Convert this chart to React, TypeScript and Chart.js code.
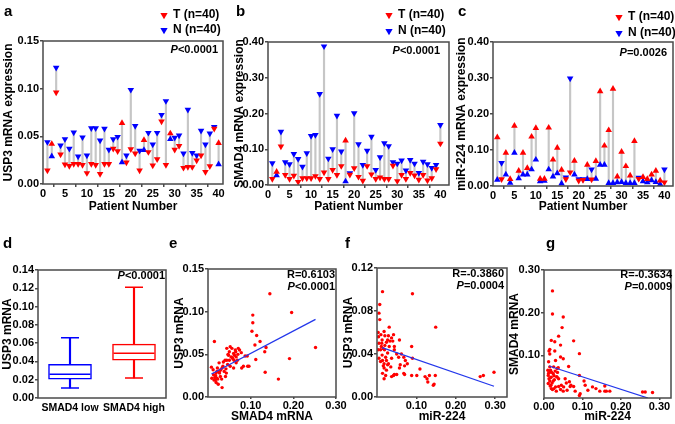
import React, { useEffect, useRef } from 'react';
import { Chart, registerables } from 'chart.js';
Chart.register(...registerables);

const FONT = "'Liberation Sans', Arial, Helvetica, sans-serif";
const RED = '#ff0000';
const BLUE = '#0000ff';
const LINE_BLUE = 'rgb(35,55,235)';
const FRAME = '#4a4a4a';
const CONNECT = '#c6c6c6';

// ---------- data ----------
const patients = [1,2,3,4,5,6,7,8,9,10,11,12,13,14,15,16,17,18,19,20,21,22,23,24,25,26,27,28,29,30,31,32,33,34,35,36,37,38,39,40];
const patientTicks = [0,5,10,15,20,25,30,35,40];

// a: USP3 mRNA expression
const usp3T = [0.0143,0.042,0.096,0.031,0.0206,0.019,0.021,0.021,0.020,0.0115,0.021,0.020,0.0105,0.021,0.021,0.037,0.0345,0.064,0.0227,0.0366,0.032,0.0143,0.046,0.0335,0.0195,0.026,0.0656,0.020,0.053,0.036,0.040,0.017,0.018,0.0178,0.0248,0.030,0.0126,0.0188,0.058,0.043];
const usp3N = [0.044,0.029,0.122,0.0405,0.047,0.037,0.054,0.029,0.049,0.030,0.0586,0.0586,0.0457,0.058,0.036,0.047,0.0495,0.0227,0.030,0.0988,0.061,0.035,0.0356,0.0537,0.0415,0.0537,0.0726,0.087,0.047,0.0485,0.051,0.032,0.078,0.0325,0.030,0.056,0.0415,0.053,0.060,0.0206];
const usp3Ticks = [0,0.05,0.10,0.15];

// b: SMAD4 mRNA expression
const smad4T = [0.017,0.037,0.108,0.028,0.017,0.026,0.009,0.019,0.019,0.019,0.025,0.017,0.035,0.017,0.042,0.028,0.053,0.124,0.029,0.047,0.023,0.012,0.053,0.030,0.017,0.021,0.017,0.017,0.054,0.011,0.028,0.017,0.034,0.027,0.015,0.028,0.013,0.019,0.044,0.116];
const smad4N = [0.061,0.027,0.149,0.064,0.058,0.087,0.073,0.051,0.089,0.137,0.140,0.255,0.388,0.074,0.100,0.194,0.094,0.010,0.033,0.201,0.114,0.056,0.096,0.135,0.042,0.078,0.117,0.109,0.064,0.060,0.069,0.041,0.070,0.060,0.034,0.065,0.058,0.048,0.056,0.168];
const smad4Ticks = [0,0.10,0.20,0.30,0.40];

// c: miR-224 mRNA expression
const mirT = [0.135,0.019,0.092,0.019,0.167,0.042,0.092,0.050,0.137,0.161,0.020,0.020,0.162,0.073,0.106,0.045,0.019,0.038,0.070,0.015,0.017,0.059,0.018,0.069,0.263,0.112,0.155,0.270,0.026,0.095,0.055,0.029,0.125,0.020,0.025,0.019,0.032,0.042,0.015,0.010];
const mirN = [0.017,0.064,0.032,0.009,0.092,0.021,0.032,0.032,0.046,0.073,0.013,0.014,0.046,0.026,0.035,0.007,0.024,0.299,0.032,0.019,0.019,0.019,0.046,0.020,0.059,0.059,0.008,0.008,0.010,0.011,0.008,0.008,0.008,0.023,0.013,0.010,0.016,0.011,0.005,0.046];
const mirTicks = [0,0.10,0.20,0.30,0.40];

// d: box plot
const boxGroups = ['SMAD4 low', 'SMAD4 high'];
const boxMin = [0.011, 0.0219];
const boxQ1 = [0.0207, 0.0415];
const boxMedian = [0.026, 0.049];
const boxQ3 = [0.0367, 0.059];
const boxMax = [0.066, 0.121];
const boxTicks = [0,0.02,0.04,0.06,0.08,0.10,0.12,0.14];

// e: SMAD4 (x) vs USP3 (y)
const eX = [0.145,0.196,0.105,0.105,0.103,0.114,0.122,0.110,0.136,0.133,0.112,0.191,0.252,0.134,0.165,0.015,0.008,0.009,0.013,0.016,0.017,0.019,0.021,0.019,0.025,0.027,0.026,0.029,0.032,0.033,0.022,0.033,0.035,0.038,0.041,0.043,0.040,0.044,0.046,0.044,0.050,0.052,0.056,0.048,0.054,0.050,0.052,0.058,0.060,0.064,0.061,0.066,0.069,0.074,0.071,0.078,0.066,0.079,0.083,0.087,0.092,0.093,0.096,0.060,0.036,0.021,0.012,0.018,0.023,0.030,0.047,0.057,0.062,0.014,0.024,0.028,0.065,0.070,0.042,0.018];
const eY = [0.121,0.099,0.096,0.087,0.077,0.072,0.065,0.061,0.058,0.053,0.044,0.045,0.058,0.029,0.021,0.065,0.035,0.022,0.026,0.023,0.020,0.017,0.022,0.028,0.030,0.028,0.040,0.024,0.021,0.011,0.034,0.034,0.036,0.030,0.024,0.028,0.043,0.043,0.038,0.057,0.053,0.059,0.057,0.049,0.047,0.043,0.036,0.045,0.051,0.055,0.043,0.047,0.043,0.055,0.057,0.052,0.040,0.034,0.036,0.048,0.048,0.036,0.036,0.034,0.041,0.030,0.032,0.021,0.021,0.032,0.050,0.046,0.049,0.020,0.015,0.031,0.053,0.050,0.033,0.025];
const eFitX = [0.008, 0.252];
const eFitY = [0.027, 0.091];
const eXTicks = [0.10,0.20,0.30];
const eYTicks = [0,0.05,0.10,0.15];

// f: miR-224 (x) vs USP3 (y)
const fX = [0.014,0.090,0.007,0.005,0.007,0.149,0.031,0.003,0.088,0.090,0.057,0.044,0.044,0.068,0.072,0.070,0.077,0.059,0.055,0.037,0.029,0.024,0.022,0.018,0.037,0.042,0.044,0.050,0.057,0.068,0.070,0.088,0.101,0.109,0.122,0.127,0.129,0.133,0.143,0.145,0.148,0.262,0.270,0.297,0.004,0.010,0.013,0.005,0.011,0.003,0.009,0.016,0.020,0.024,0.027,0.020,0.018,0.029,0.037,0.042,0.040,0.031,0.027,0.005,0.009,0.014,0.018,0.013,0.022,0.024,0.027,0.035,0.018,0.014,0.019,0.033,0.012,0.050,0.062,0.016];
const fY = [0.098,0.096,0.086,0.078,0.072,0.065,0.065,0.060,0.047,0.036,0.053,0.047,0.044,0.037,0.034,0.029,0.031,0.030,0.037,0.036,0.031,0.025,0.020,0.017,0.019,0.020,0.021,0.021,0.027,0.022,0.021,0.020,0.020,0.026,0.019,0.017,0.014,0.020,0.011,0.012,0.020,0.019,0.020,0.023,0.056,0.058,0.053,0.050,0.047,0.044,0.044,0.045,0.048,0.051,0.053,0.057,0.061,0.057,0.055,0.058,0.052,0.047,0.041,0.036,0.033,0.034,0.031,0.039,0.037,0.034,0.030,0.028,0.027,0.022,0.044,0.052,0.050,0.040,0.040,0.029];
const fFitX = [0.013, 0.297];
const fFitY = [0.046, 0.010];
const fXTicks = [0.10,0.20,0.30];
const fYTicks = [0,0.04,0.08,0.12];

// g: miR-224 (x) vs SMAD4 (y)
const gX = [0.022,0.022,0.050,0.047,0.019,0.028,0.077,0.038,0.043,0.015,0.013,0.015,0.028,0.043,0.050,0.030,0.092,0.064,0.034,0.037,0.010,0.015,0.017,0.024,0.011,0.019,0.026,0.034,0.038,0.015,0.011,0.021,0.027,0.030,0.026,0.032,0.038,0.043,0.051,0.050,0.058,0.066,0.068,0.077,0.081,0.092,0.094,0.092,0.104,0.107,0.114,0.126,0.135,0.145,0.158,0.158,0.162,0.171,0.256,0.263,0.282,0.013,0.015,0.020,0.012,0.024,0.018,0.029,0.033,0.022,0.017,0.045,0.060,0.070,0.055,0.016,0.025,0.012,0.035,0.019];
const gY = [0.251,0.197,0.190,0.165,0.135,0.132,0.134,0.145,0.124,0.114,0.110,0.103,0.110,0.096,0.092,0.088,0.104,0.074,0.069,0.071,0.065,0.061,0.065,0.057,0.053,0.049,0.052,0.049,0.045,0.040,0.034,0.035,0.043,0.026,0.022,0.016,0.027,0.020,0.026,0.016,0.035,0.038,0.027,0.027,0.016,0.053,0.010,0.006,0.040,0.030,0.018,0.026,0.022,0.016,0.028,0.016,0.016,0.016,0.014,0.014,0.013,0.045,0.073,0.060,0.058,0.040,0.030,0.063,0.050,0.020,0.048,0.030,0.018,0.030,0.045,0.028,0.073,0.085,0.060,0.022];
const gFitX = [0.013, 0.27];
const gFitY = [0.075, 0.0];
const gXTicks = [0,0.10,0.20,0.30];
const gYTicks = [0.10,0.20,0.30];

// ---------- layout helpers ----------
type Rect = { x: number; y: number; w: number; h: number };
type Area = { l: number; t: number; r: number; b: number };
type Part = { t: string; it?: boolean };
type Txt = { parts: Part[]; x: number; y: number; align: 'left' | 'right'; size: number; base?: CanvasTextBaseline };
type Leg = { x: number; y: number; color: string; label: string };

const tickFont = { family: FONT, size: 11, weight: 'bold' as const };
const titleFont = { family: FONT, size: 12, weight: 'bold' as const, lineHeight: 1.2 };

function lay(c: Rect, a: Area) {
  return {
    padding: { left: 0, top: a.t - c.y, right: c.x + c.w - a.r, bottom: 0 },
    yW: a.l - c.x,
    xH: c.y + c.h - a.b,
  };
}

function axis(o: {
  type?: string; min?: number; max?: number; ticks?: number[]; fmt?: (v: number) => string;
  title?: string; titlePad?: any; fitW?: number; fitH?: number; tickLen?: number; pad?: number;
  drawTicks?: boolean; tickSize?: number; offset?: boolean;
}) {
  const s: any = {
    type: o.type || 'linear',
    border: { display: false },
    grid: { display: true, drawOnChartArea: false, drawTicks: o.drawTicks !== false, tickLength: o.tickLen ?? 3, color: FRAME, lineWidth: 1.5 },
    ticks: { font: { ...tickFont, size: o.tickSize ?? 11 }, color: '#000', padding: o.pad ?? 1, autoSkip: false, maxRotation: 0, minRotation: 0 },
    title: o.title ? { display: true, text: o.title, font: titleFont, color: '#000', padding: o.titlePad } : { display: false },
  };
  if (o.min !== undefined) s.min = o.min;
  if (o.max !== undefined) s.max = o.max;
  if (o.offset !== undefined) s.offset = o.offset;
  if (o.ticks) {
    const t = o.ticks;
    s.afterBuildTicks = (sc: any) => { sc.ticks = t.map((v) => ({ value: v })); };
  }
  if (o.fmt) { const f = o.fmt; s.ticks.callback = (v: any) => f(Number(v)); }
  const w = o.fitW, h = o.fitH;
  s.afterFit = (sc: any) => {
    if (w !== undefined) sc.width = w;
    if (h !== undefined) sc.height = h;
    sc.paddingLeft = 0; sc.paddingRight = 0; sc.paddingTop = 0; sc.paddingBottom = 0;
  };
  return s;
}

function overlay(c: Rect, txts: Txt[], legs: Leg[]) {
  return {
    id: 'overlay',
    afterDraw(chart: any) {
      const ctx: CanvasRenderingContext2D = chart.ctx;
      const a = chart.chartArea;
      ctx.save();
      ctx.strokeStyle = FRAME;
      ctx.lineWidth = 1.5;
      ctx.strokeRect(a.left, a.top, a.right - a.left, a.bottom - a.top);
      ctx.fillStyle = '#000';
      ctx.textAlign = 'left';
      for (const t of txts) {
        ctx.textBaseline = t.base || 'middle';
        const fonts = t.parts.map((p) => `${p.it ? 'italic ' : ''}bold ${t.size}px ${FONT}`);
        const widths = t.parts.map((p, i) => { ctx.font = fonts[i]; return ctx.measureText(p.t).width; });
        const total = widths.reduce((s, w) => s + w, 0);
        let x = (t.align === 'right' ? t.x - total : t.x) - c.x;
        t.parts.forEach((p, i) => { ctx.font = fonts[i]; ctx.fillText(p.t, x, t.y - c.y); x += widths[i]; });
      }
      for (const l of legs) {
        const x = l.x - c.x, y = l.y - c.y, r = 4.2;
        ctx.fillStyle = l.color;
        ctx.beginPath();
        ctx.moveTo(x, y + r);
        ctx.lineTo(x - r * 0.866, y - r / 2);
        ctx.lineTo(x + r * 0.866, y - r / 2);
        ctx.closePath();
        ctx.fill();
        ctx.fillStyle = '#000';
        ctx.font = `bold 12px ${FONT}`;
        ctx.textBaseline = 'middle';
        ctx.fillText(l.label, x + 9, y);
      }
      ctx.restore();
    },
  };
}

const letter = (s: string, x: number, y: number): Txt => ({ parts: [{ t: s }], x, y, align: 'left', size: 15, base: 'alphabetic' });
const pval = (rest: string, x: number, y: number): Txt => ({ parts: [{ t: 'P', it: true }, { t: rest }], x, y, align: 'right', size: 11 });
const rval = (s: string, x: number, y: number): Txt => ({ parts: [{ t: s }], x, y, align: 'right', size: 11 });
const legendTN = (x: number, y1: number, y2: number): Leg[] => [
  { x, y: y1, color: RED, label: 'T (n=40)' },
  { x, y: y2, color: BLUE, label: 'N (n=40)' },
];

const baseOptions = (L: any) => ({
  responsive: false,
  animation: false,
  devicePixelRatio: 1,
  events: [],
  layout: { padding: L.padding, autoPadding: false },
  plugins: { legend: { display: false }, tooltip: { enabled: false } },
});

const fmt2 = (v: number) => v.toFixed(2);

// ---------- panel builders ----------
function patientPanel(c: Rect, a: Area, T: number[], N: number[], xMax: number, yMax: number, yTicks: number[],
  yTitle: string, yTitleX: number, txts: Txt[], legs: Leg[]) {
  const L = lay(c, a);
  const orient = (i: number) => (T[i] > N[i] ? 0 : 180);
  return {
    type: 'scatter',
    data: {
      datasets: [
        {
          type: 'bar',
          data: patients.map((p, i) => ({ x: p, y: [Math.min(T[i], N[i]), Math.max(T[i], N[i])] })),
          backgroundColor: CONNECT, borderWidth: 0, barThickness: 1.5, grouped: false, order: 3,
        },
        {
          type: 'scatter', label: 'N (n=40)',
          data: patients.map((p, i) => ({ x: p, y: N[i] })),
          pointStyle: 'triangle', pointRotation: (ctx: any) => orient(ctx.dataIndex),
          pointRadius: 3.8, backgroundColor: BLUE, borderColor: BLUE, borderWidth: 0, order: 2,
        },
        {
          type: 'scatter', label: 'T (n=40)',
          data: patients.map((p, i) => ({ x: p, y: T[i] })),
          pointStyle: 'triangle', pointRotation: (ctx: any) => orient(ctx.dataIndex),
          pointRadius: 3.8, backgroundColor: RED, borderColor: RED, borderWidth: 0, order: 1,
        },
      ],
    },
    options: {
      ...baseOptions(L),
      scales: {
        x: axis({ min: 0, max: xMax, offset: false, ticks: patientTicks, fmt: (v) => String(v), title: 'Patient Number',
          titlePad: { top: 0, bottom: c.y + c.h - 207 - 7.2 }, fitH: L.xH, tickLen: 3, pad: 0 }),
        y: axis({ min: 0, max: yMax, ticks: yTicks, fmt: fmt2, title: yTitle,
          titlePad: { top: yTitleX - c.x - 7.2, bottom: 0 }, fitW: L.yW, tickLen: 3, pad: 1 }),
      },
    },
    plugins: [overlay(c, txts, legs)],
  };
}

function scatterPanel(c: Rect, a: Area, X: number[], Y: number[], fitX: number[], fitY: number[], xMax: number, yMax: number,
  xTicks: number[], yTicks: number[], xTitle: string, yTitle: string, yTitleX: number, xTitleY: number, txts: Txt[]) {
  const L = lay(c, a);
  return {
    type: 'scatter',
    data: {
      datasets: [
        {
          type: 'line', data: fitX.map((x, i) => ({ x, y: fitY[i] })), showLine: true,
          borderColor: LINE_BLUE, borderWidth: 1.3, pointRadius: 0, fill: false, order: 1,
        },
        {
          type: 'scatter', data: X.map((x, i) => ({ x, y: Y[i] })),
          pointRadius: 1.7, pointStyle: 'circle', backgroundColor: RED, borderColor: RED, borderWidth: 0, order: 2,
        },
      ],
    },
    options: {
      ...baseOptions(L),
      scales: {
        x: axis({ min: 0, max: xMax, offset: false, ticks: xTicks, fmt: fmt2, title: xTitle,
          titlePad: { top: 0, bottom: c.y + c.h - xTitleY - 7.2 }, fitH: L.xH, tickLen: 2, pad: 0 }),
        y: axis({ min: 0, max: yMax, ticks: yTicks, fmt: fmt2, title: yTitle,
          titlePad: { top: yTitleX - c.x - 7.2, bottom: 0 }, fitW: L.yW, tickLen: 3, pad: 1 }),
      },
    },
    plugins: [overlay(c, txts, [])],
  };
}

function boxPanel(c: Rect, a: Area, yTitleX: number, txts: Txt[]) {
  const L = lay(c, a);
  const colors = [BLUE, RED];
  return {
    type: 'bar',
    data: {
      labels: boxGroups,
      datasets: [
        { type: 'bar', data: boxMin.map((v, i) => [v, boxQ1[i]]), backgroundColor: colors, borderWidth: 0, barThickness: 1.5, grouped: false, order: 4 },
        { type: 'bar', data: boxQ3.map((v, i) => [v, boxMax[i]]), backgroundColor: colors, borderWidth: 0, barThickness: 1.5, grouped: false, order: 4 },
        { type: 'bar', data: boxQ1.map((v, i) => [v, boxQ3[i]]), backgroundColor: '#ffffff', borderColor: colors, borderWidth: 1.5,
          borderSkipped: false, barThickness: 43, grouped: false, order: 3 },
        { type: 'line', data: boxMedian, showLine: false, pointStyle: 'line', pointRadius: 20.5, pointBorderColor: colors, pointBorderWidth: 1.5, order: 1 },
        { type: 'line', data: boxMin, showLine: false, pointStyle: 'line', pointRadius: 9, pointBorderColor: colors, pointBorderWidth: 1.5, order: 1 },
        { type: 'line', data: boxMax, showLine: false, pointStyle: 'line', pointRadius: 9, pointBorderColor: colors, pointBorderWidth: 1.5, order: 1 },
      ],
    },
    options: {
      ...baseOptions(L),
      scales: {
        x: axis({ type: 'category', offset: true, fitH: L.xH, drawTicks: false, tickLen: 0, pad: 4, tickSize: 10.5 }),
        y: axis({ min: 0, max: 0.14, ticks: boxTicks, fmt: fmt2, title: 'USP3 mRNA',
          titlePad: { top: yTitleX - c.x - 7.2, bottom: 0 }, fitW: L.yW, tickLen: 3, pad: 1 }),
      },
    },
    plugins: [overlay(c, txts, [])],
  };
}

// ---------- panels ----------
const rA: Rect = { x: 0, y: 0, w: 226, h: 222 };
const rB: Rect = { x: 228, y: 0, w: 226, h: 222 };
const rC: Rect = { x: 454, y: 0, w: 221, h: 222 };
const rD: Rect = { x: 0, y: 226, w: 172, h: 198 };
const rE: Rect = { x: 165, y: 226, w: 188, h: 198 };
const rF: Rect = { x: 340, y: 226, w: 168, h: 198 };
const rG: Rect = { x: 507, y: 226, w: 168, h: 198 };

const builders: { rect: Rect; build: () => any }[] = [
  { rect: rA, build: () => patientPanel(rA, { l: 43, t: 41, r: 223, b: 184 }, usp3T, usp3N, 41, 0.15, usp3Ticks,
    'USP3 mRNA expression', 9, [letter('a', 4, 15.5), pval('<0.0001', 218, 50)], legendTN(164, 15, 30)) },
  { rect: rB, build: () => patientPanel(rB, { l: 268, t: 42, r: 449, b: 185 }, smad4T, smad4N, 42, 0.40, smad4Ticks,
    'SMAD4 mRNA expression', 240, [letter('b', 236, 15.5), pval('<0.0001', 440, 51)], legendTN(389, 15, 31)) },
  { rect: rC, build: () => patientPanel(rC, { l: 493, t: 42, r: 673, b: 186 }, mirT, mirN, 42, 0.40, mirTicks,
    'miR-224 mRNA expression', 462, [letter('c', 458, 15.5), pval('=0.0026', 667, 53)], legendTN(619, 17, 33)) },
  { rect: rD, build: () => boxPanel(rD, { l: 38, t: 270, r: 166, b: 398 }, 8, [letter('d', 3, 248), pval('<0.0001', 165, 276)]) },
  { rect: rE, build: () => scatterPanel(rE, { l: 208, t: 269, r: 336, b: 397 }, eX, eY, eFitX, eFitY, 0.30, 0.15, eXTicks, eYTicks,
    'SMAD4 mRNA', 'USP3 mRNA', 180, 417, [letter('e', 169, 248), rval('R=0.6103', 335, 275), pval('<0.0001', 335, 287)]) },
  { rect: rF, build: () => scatterPanel(rF, { l: 377, t: 268, r: 507, b: 397 }, fX, fY, fFitX, fFitY, 0.33, 0.12, fXTicks, fYTicks,
    'miR-224', 'USP3 mRNA', 349, 417, [letter('f', 345, 248), rval('R=-0.3860', 504, 274), pval('=0.0004', 504, 286)]) },
  { rect: rG, build: () => scatterPanel(rG, { l: 544, t: 270, r: 671, b: 398 }, gX, gY, gFitX, gFitY, 0.33, 0.30, gXTicks, gYTicks,
    'miR-224', 'SMAD4 mRNA', 515, 417, [letter('g', 546, 248), rval('R=-0.3634', 672, 275), pval('=0.0009', 672, 287)]) },
];

function ChartPanel({ rect, build }: { rect: Rect; build: () => any }) {
  const ref = useRef<HTMLCanvasElement>(null);
  useEffect(() => {
    const chart = new Chart(ref.current as HTMLCanvasElement, build());
    return () => chart.destroy();
  }, []);
  return (
    <canvas ref={ref} width={rect.w} height={rect.h}
      style={{ position: 'absolute', left: rect.x, top: rect.y, width: rect.w, height: rect.h }} />
  );
}

export default function App() {
  return (
    <div style={{ position: 'fixed', left: 0, top: 0, width: 675, height: 424, background: '#ffffff', overflow: 'hidden' }}>
      {builders.map((b, i) => <ChartPanel key={i} rect={b.rect} build={b.build} />)}
    </div>
  );
}
